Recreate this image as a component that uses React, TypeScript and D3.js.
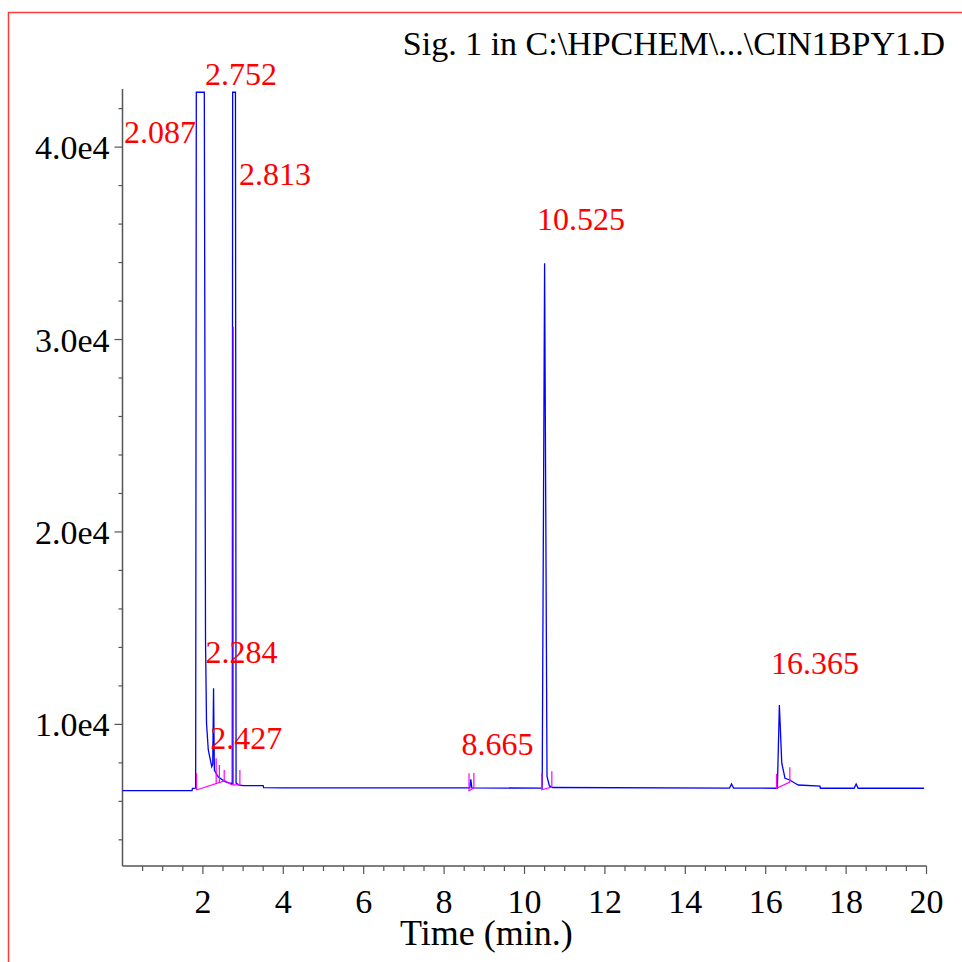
import React from 'react';
import * as d3 from 'd3';

// detector signal, [time (min), counts]
const signalTrace: [number, number][] = [
  [0, 6553], [1.73, 6553], [1.74, 6680], [1.82, 6690],
  [1.836, 42850], [2.035, 42850], [2.065, 14400], [2.09, 10070], [2.134, 8670],
  [2.22, 7800], [2.245, 7940], [2.265, 11880], [2.285, 7630], [2.38, 7280],
  [2.55, 7020], [2.675, 6940], [2.73, 6930], [2.74, 42850], [2.81, 42850],
  [2.825, 6950], [2.89, 6860], [3.0, 6813], [3.5, 6813], [3.51, 6715],
  [4.0, 6700], [8.64, 6695], [8.665, 7150], [8.69, 6695],
  [10.44, 6690], [10.5, 33960], [10.56, 7300], [10.62, 6800], [10.7, 6720],
  [15.1, 6690], [15.15, 6900], [15.2, 6690],
  [16.29, 6680], [16.34, 11000], [16.4, 7980], [16.48, 7200], [16.6, 7110],
  [16.73, 6940], [16.81, 6850], [17.35, 6796], [17.36, 6680],
  [18.2, 6680], [18.25, 6900], [18.3, 6680], [19.94, 6680],
];

// integration baselines and peak start/stop marks
const integrationMarks: [number, number][][] = [
  [[1.84, 6590], [1.84, 7470]],
  [[1.84, 6590], [2.55, 7070], [2.72, 6860], [2.93, 6860]],
  [[2.33, 6920], [2.33, 8240]],
  [[2.41, 6975], [2.41, 7890]],
  [[2.53, 7060], [2.53, 7630]],
  [[2.757, 6860], [2.757, 30670]],
  [[2.92, 6860], [2.92, 7630]],
  [[8.62, 7460], [8.62, 6553], [8.74, 6694], [8.74, 7470]],
  [[10.43, 7473], [10.43, 6600], [10.68, 6740], [10.68, 7560]],
  [[16.27, 7420], [16.27, 6680], [16.6, 7005], [16.6, 7770]],
];

// retention time labels, placed at [time, counts] of text start / baseline
const peakLabels: { text: string; t: number; v: number }[] = [
  { text: '2.087', t: 0.04, v: 40200 },
  { text: '2.752', t: 2.05, v: 43230 },
  { text: '2.813', t: 2.9, v: 38030 },
  { text: '10.525', t: 10.31, v: 35690 },
  { text: '2.284', t: 2.065, v: 13190 },
  { text: '2.427', t: 2.18, v: 8720 },
  { text: '8.665', t: 8.43, v: 8409 },
  { text: '16.365', t: 16.13, v: 12600 },
];

const xMajor = [2, 4, 6, 8, 10, 12, 14, 16, 18, 20];
const yMajor = [10000, 20000, 30000, 40000];
const yMajorLabels = ['1.0e4', '2.0e4', '3.0e4', '4.0e4'];

const title = 'Sig. 1 in C:\\HPCHEM\\...\\CIN1BPY1.D';

const W = 962;
const H = 962;
const font = '"Liberation Serif", "Times New Roman", serif';

export default function App() {
  const x = d3.scaleLinear().domain([0, 20]).range([122.5, 926.5]);
  const y = d3.scaleLinear().domain([2640, 43020]).range([866, 89]);

  const line = d3
    .line<[number, number]>()
    .x((d) => x(d[0]))
    .y((d) => y(d[1]));

  const xMinor = d3.range(0.5, 20.01, 0.5).filter((t) => Math.abs(t % 2) > 0.01);
  const yMinor = d3.range(4000, 43000, 2000).filter((v) => v % 10000 !== 0);

  const axisColor = '#555';
  const [x0, x1] = x.range();
  const [yb, yt] = y.range();

  return (
    <svg
      width={W}
      height={H}
      style={{ position: 'absolute', left: 0, top: 0, background: '#fff' }}
    >
      <rect x={8.5} y={12.5} width={1000} height={1000} fill="none" stroke="#ff3b3b" strokeWidth={1.5} />

      <text x={945} y={55} textAnchor="end" fontSize={34} fontFamily={font} fill="#000">
        {title}
      </text>

      {/* axes */}
      <line x1={x0} x2={x0} y1={yt} y2={yb} stroke={axisColor} strokeWidth={1.5} />
      <line x1={x0} x2={x1} y1={yb} y2={yb} stroke={axisColor} strokeWidth={1.5} />

      {xMinor.map((t) => (
        <line key={'xm' + t} x1={x(t)} x2={x(t)} y1={yb} y2={yb + 5} stroke={axisColor} strokeWidth={1.2} />
      ))}
      {xMajor.map((t) => (
        <g key={'xM' + t}>
          <line x1={x(t)} x2={x(t)} y1={yb} y2={yb + 8} stroke={axisColor} strokeWidth={1.2} />
          <text x={x(t)} y={yb + 47} textAnchor="middle" fontSize={34} fontFamily={font} fill="#000">
            {t}
          </text>
        </g>
      ))}

      {yMinor.map((v) => (
        <line key={'ym' + v} x1={x0 - 4} x2={x0} y1={y(v)} y2={y(v)} stroke={axisColor} strokeWidth={1.2} />
      ))}
      {yMajor.map((v, i) => (
        <g key={'yM' + v}>
          <line x1={x0 - 8} x2={x0} y1={y(v)} y2={y(v)} stroke={axisColor} strokeWidth={1.2} />
          <text x={x0 - 13} y={y(v) + 12} textAnchor="end" fontSize={34} fontFamily={font} fill="#000">
            {yMajorLabels[i]}
          </text>
        </g>
      ))}

      <text x={400} y={945} fontSize={36} fontFamily={font} fill="#000">
        Time (min.)
      </text>

      {/* signal */}
      <path d={line(signalTrace) ?? ''} fill="none" stroke="#0000ff" strokeWidth={1.3} strokeLinejoin="miter" />

      {integrationMarks.map((seg, i) => (
        <path key={'im' + i} d={line(seg) ?? ''} fill="none" stroke="#ff00ff" strokeWidth={1.2} />
      ))}

      {peakLabels.map((p) => (
        <text key={p.text} x={x(p.t)} y={y(p.v)} fontSize={32} fontFamily={font} fill="#ff0000">
          {p.text}
        </text>
      ))}
    </svg>
  );
}
